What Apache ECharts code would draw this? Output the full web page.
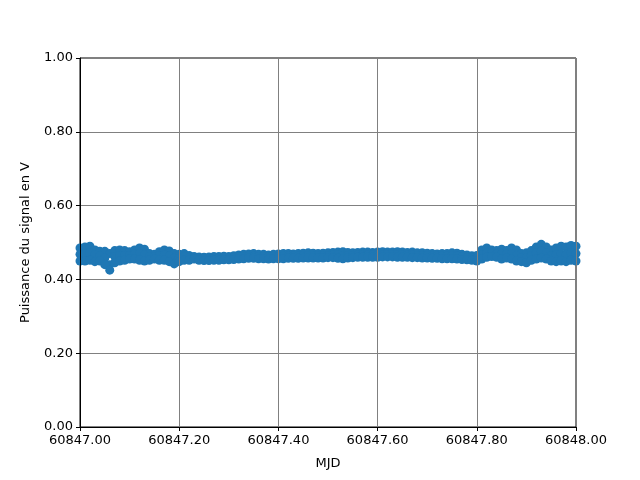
<!DOCTYPE html>
<html>
<head>
<meta charset="utf-8">
<script src="https://cdn.jsdelivr.net/npm/echarts@6/dist/echarts.min.js"></script>
<style>html,body{margin:0;padding:0;background:#fff}#c{width:640px;height:480px}</style>
</head>
<body>
<div id="c"></div>
<script>
// MJD sample times: 60847.00 .. 60848.00 in steps of 0.01
const mjdStart = 60847.00;
const mjdStep = 0.01;
const xTicks = ['60847.00','60847.20','60847.40','60847.60','60847.80','60848.00'];
const yTicks = ['0.00','0.20','0.40','0.60','0.80','1.00'];

// upper envelope of the scatter band (V)
const hiVals = [
0.485,0.488,0.490,0.480,0.476,0.476,0.470,0.478,0.480,0.478,
0.475,0.480,0.485,0.482,0.470,0.468,0.475,0.480,0.477,0.470,
0.468,0.470,0.465,0.462,0.461,0.460,0.461,0.462,0.462,0.463,
0.462,0.464,0.466,0.468,0.469,0.470,0.468,0.468,0.466,0.468,
0.469,0.470,0.470,0.469,0.470,0.471,0.472,0.471,0.470,0.471,
0.472,0.473,0.474,0.475,0.473,0.472,0.473,0.474,0.474,0.473,
0.474,0.475,0.474,0.474,0.475,0.474,0.473,0.474,0.472,0.472,
0.471,0.470,0.469,0.470,0.470,0.472,0.471,0.468,0.466,0.464,
0.465,0.480,0.485,0.480,0.478,0.482,0.478,0.485,0.480,0.470,
0.472,0.478,0.488,0.495,0.488,0.480,0.485,0.490,0.488,0.492,
0.490];
// middle of the band (V)
const midVals = [
0.468,0.470,0.472,0.466,0.464,0.458,0.440,0.462,0.465,0.465,
0.465,0.468,0.470,0.466,0.462,0.462,0.464,0.466,0.463,0.458,
0.458,0.461,0.459,0.458,0.457,0.456,0.456,0.457,0.457,0.458,
0.458,0.459,0.460,0.462,0.463,0.463,0.462,0.462,0.461,0.462,
0.462,0.463,0.463,0.463,0.463,0.464,0.465,0.464,0.464,0.464,
0.465,0.466,0.466,0.465,0.465,0.465,0.466,0.466,0.467,0.466,
0.467,0.467,0.467,0.467,0.467,0.467,0.466,0.466,0.465,0.465,
0.464,0.463,0.463,0.463,0.463,0.464,0.463,0.461,0.459,0.458,
0.458,0.467,0.472,0.471,0.469,0.468,0.468,0.470,0.465,0.459,
0.458,0.465,0.471,0.476,0.471,0.465,0.466,0.470,0.468,0.472,
0.470];
// lower envelope of the band (V)
const loVals = [
0.450,0.450,0.452,0.448,0.450,0.440,0.425,0.445,0.450,0.452,
0.455,0.455,0.452,0.450,0.452,0.455,0.452,0.452,0.448,0.442,
0.448,0.452,0.452,0.455,0.452,0.451,0.451,0.452,0.452,0.453,
0.453,0.454,0.455,0.456,0.457,0.457,0.456,0.456,0.455,0.456,
0.456,0.456,0.457,0.457,0.457,0.458,0.458,0.458,0.458,0.458,
0.459,0.459,0.457,0.456,0.458,0.459,0.460,0.460,0.460,0.460,
0.460,0.461,0.461,0.461,0.460,0.460,0.460,0.459,0.459,0.458,
0.458,0.457,0.457,0.456,0.456,0.456,0.455,0.454,0.453,0.452,
0.450,0.455,0.460,0.462,0.460,0.455,0.458,0.455,0.450,0.448,
0.445,0.452,0.455,0.458,0.455,0.450,0.448,0.450,0.448,0.452,
0.450];

function pts(vals){ return vals.map((v,i)=>[mjdStart + i*mjdStep, v]); }
const data = pts(hiVals).concat(pts(midVals), pts(loVals));

const chart = echarts.init(document.getElementById('c'), null, {renderer:'canvas'});
const font = 'DejaVu Sans';
chart.setOption({
  animation:false,
  grid:{left:80,right:64,top:58,bottom:53,show:true,borderColor:'#000',borderWidth:1,backgroundColor:'transparent'},
  xAxis:{
    type:'value',min:60847,max:60848,interval:0.2,z:3,
    name:'MJD',nameLocation:'middle',nameGap:30,
    nameTextStyle:{color:'#000',fontFamily:font,fontSize:13},
    axisLine:{lineStyle:{color:'#000',width:1}},
    axisTick:{show:true,inside:false,length:4,lineStyle:{color:'#000'}},
    axisLabel:{color:'#000',fontFamily:font,fontSize:13,margin:7,formatter:v=>v.toFixed(2)},
    splitLine:{show:true,lineStyle:{color:'#808080',width:1}}
  },
  yAxis:{
    type:'value',min:0,max:1,interval:0.2,z:3,
    name:'Puissance du signal en V',nameLocation:'middle',nameGap:48,
    nameTextStyle:{color:'#000',fontFamily:font,fontSize:13},
    axisLine:{show:true,lineStyle:{color:'#000',width:1}},
    axisTick:{show:true,inside:false,length:4,lineStyle:{color:'#000'}},
    axisLabel:{color:'#000',fontFamily:font,fontSize:13,margin:7,formatter:v=>v.toFixed(2)},
    splitLine:{show:true,lineStyle:{color:'#808080',width:1}}
  },
  series:[{
    type:'scatter',data:data,symbol:'circle',symbolSize:9,z:2,
    itemStyle:{color:'#1f77b4',opacity:1},
    emphasis:{disabled:true}
  }]
});
</script>
</body>
</html>
